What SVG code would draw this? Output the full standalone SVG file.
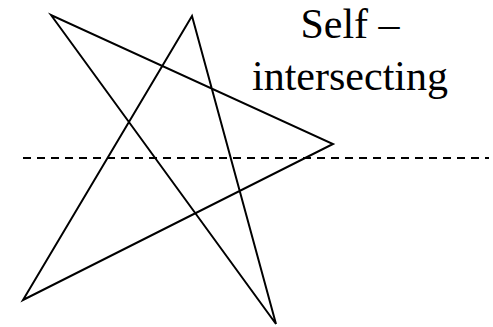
<svg xmlns="http://www.w3.org/2000/svg" width="493" height="327" viewBox="0 0 493 327">
<style>
.shape{fill:none;stroke:#000;stroke-width:2;stroke-linejoin:miter}
.dash{stroke:#000;stroke-width:2;stroke-dasharray:8 6}
.lbl{font-family:"Liberation Serif",serif;font-size:42px;fill:#000;text-anchor:middle}
</style>
<rect width="493" height="327" fill="#fff"/>
<g id="connectors">
<line class="dash" x1="23" y1="158" x2="489" y2="158"/>
</g>
<g id="star">
<polygon class="shape" points="51,15 276,324 192,16 23,300 333,144"/>
</g>
<g id="label">
<text class="lbl" x="350" y="38">Self –</text>
<text class="lbl" x="350" y="90">intersecting</text>
</g>
</svg>
